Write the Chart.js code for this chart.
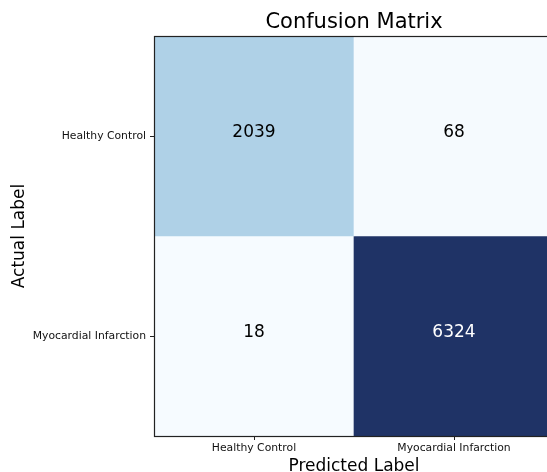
<!DOCTYPE html>
<html>
<head>
<meta charset="utf-8">
<style>
  html, body { margin: 0; padding: 0; overflow: hidden; background: #fff; width: 547px; height: 472px; }
  #wrap { width: 560px; height: 480px; }
</style>
<script src="https://cdn.jsdelivr.net/npm/chart.js@4.4.1/dist/chart.umd.min.js"></script>
</head>
<body>
<div id="wrap"><canvas id="cm" width="560" height="480"></canvas></div>
<script>
// Class names along each axis
const predictedLabels = ['Healthy Control', 'Myocardial Infarction'];
const actualLabels = ['Healthy Control', 'Myocardial Infarction'];

// Counts per actual class (columns follow predictedLabels)
const rowHealthy = [2039, 68];
const rowInfarction = [18, 6324];

const rows = [rowHealthy, rowInfarction];
const maxCount = Math.max(...rows.flat());

// Sequential blue colour map
const blueStops = [
  [0.000, [247, 251, 255]],
  [0.125, [222, 235, 247]],
  [0.250, [198, 219, 239]],
  [0.375, [158, 202, 225]],
  [0.500, [107, 174, 214]],
  [0.625, [66, 146, 198]],
  [0.750, [33, 113, 181]],
  [0.875, [20, 80, 150]],
  [1.000, [31, 51, 102]]
];
function blueShade(t) {
  for (let i = 1; i < blueStops.length; i++) {
    const [t1, c1] = blueStops[i];
    const [t0, c0] = blueStops[i - 1];
    if (t <= t1) {
      const f = (t - t0) / (t1 - t0);
      const c = c0.map((v, k) => Math.round(v + (c1[k] - v) * f));
      return `rgb(${c[0]},${c[1]},${c[2]})`;
    }
  }
  const c = blueStops[blueStops.length - 1][1];
  return `rgb(${c[0]},${c[1]},${c[2]})`;
}

const FONT = '"DejaVu Sans", sans-serif';
const INK = '#111';

// Count printed in the middle of every cell
const cellText = {
  id: 'cellText',
  afterDatasetsDraw(chart) {
    const ctx = chart.ctx;
    ctx.save();
    ctx.font = `17px ${FONT}`;
    ctx.textAlign = 'center';
    ctx.textBaseline = 'alphabetic';
    chart.data.datasets.forEach((ds, di) => {
      chart.getDatasetMeta(di).data.forEach((bar, i) => {
        const v = ds.counts[i];
        const cy = (bar.y + bar.base) / 2;
        ctx.fillStyle = v / maxCount > 0.5 ? '#fff' : '#000';
        ctx.fillText(String(v), bar.x, cy + 1);
      });
    });
    ctx.restore();
  }
};

// Frame around the plotting area
const frame = {
  id: 'frame',
  afterDraw(chart) {
    const { ctx, chartArea: a } = chart;
    ctx.save();
    ctx.strokeStyle = '#222';
    ctx.lineWidth = 1.2;
    ctx.strokeRect(Math.round(a.left) + 0.5, Math.round(a.top) + 0.5,
                   Math.round(a.right - a.left), Math.round(a.bottom - a.top));
    ctx.restore();
  }
};

new Chart(document.getElementById('cm'), {
  type: 'bar',
  data: {
    labels: predictedLabels,
    datasets: rows.map((vals, r) => ({
      label: actualLabels[r],
      data: vals.map(() => [r - 0.5, r + 0.5]),
      counts: vals,
      backgroundColor: vals.map(v => blueShade(v / maxCount)),
      borderWidth: 0,
      barPercentage: 1,
      categoryPercentage: 1,
      grouped: false
    }))
  },
  options: {
    responsive: false,
    devicePixelRatio: 1,
    animation: false,
    layout: { padding: { left: 0, right: 6, top: 0, bottom: 0 } },
    plugins: {
      legend: { display: false },
      tooltip: { enabled: false },
      title: {
        display: true,
        text: 'Confusion Matrix',
        fullSize: false,
        color: '#000',
        font: { family: FONT, size: 21, weight: 'normal', lineHeight: 1 },
        padding: { top: 12.5, bottom: 2.5 }
      }
    },
    scales: {
      x: {
        type: 'category',
        offset: true,
        afterFit(scale) { scale.height = 44; },
        grid: { offset: false, drawOnChartArea: false, drawTicks: true, tickLength: 4, color: '#222', lineWidth: 1 },
        border: { display: true, color: '#222', width: 1 },
        ticks: { color: INK, padding: 2, maxRotation: 0, font: { family: FONT, size: 10.8 } },
        title: {
          display: true,
          text: 'Predicted Label',
          color: '#000',
          font: { family: FONT, size: 17 },
          padding: { top: 0, bottom: 3 }
        }
      },
      y: {
        type: 'linear',
        reverse: true,
        min: -0.5,
        max: 1.5,
        afterFit(scale) { scale.width = 154; },
        afterBuildTicks(scale) { scale.ticks = actualLabels.map((_, i) => ({ value: i })); },
        grid: { drawOnChartArea: false, drawTicks: true, tickLength: 4, color: '#222', lineWidth: 1 },
        border: { display: true, color: '#222', width: 1 },
        ticks: {
          color: INK,
          padding: 4,
          font: { family: FONT, size: 10.8 },
          callback: v => actualLabels[v]
        },
        title: {
          display: true,
          text: 'Actual Label',
          color: '#000',
          font: { family: FONT, size: 17 },
          padding: { top: 9, bottom: 0 }
        }
      }
    }
  },
  plugins: [cellText, frame]
});
</script>
</body>
</html>
